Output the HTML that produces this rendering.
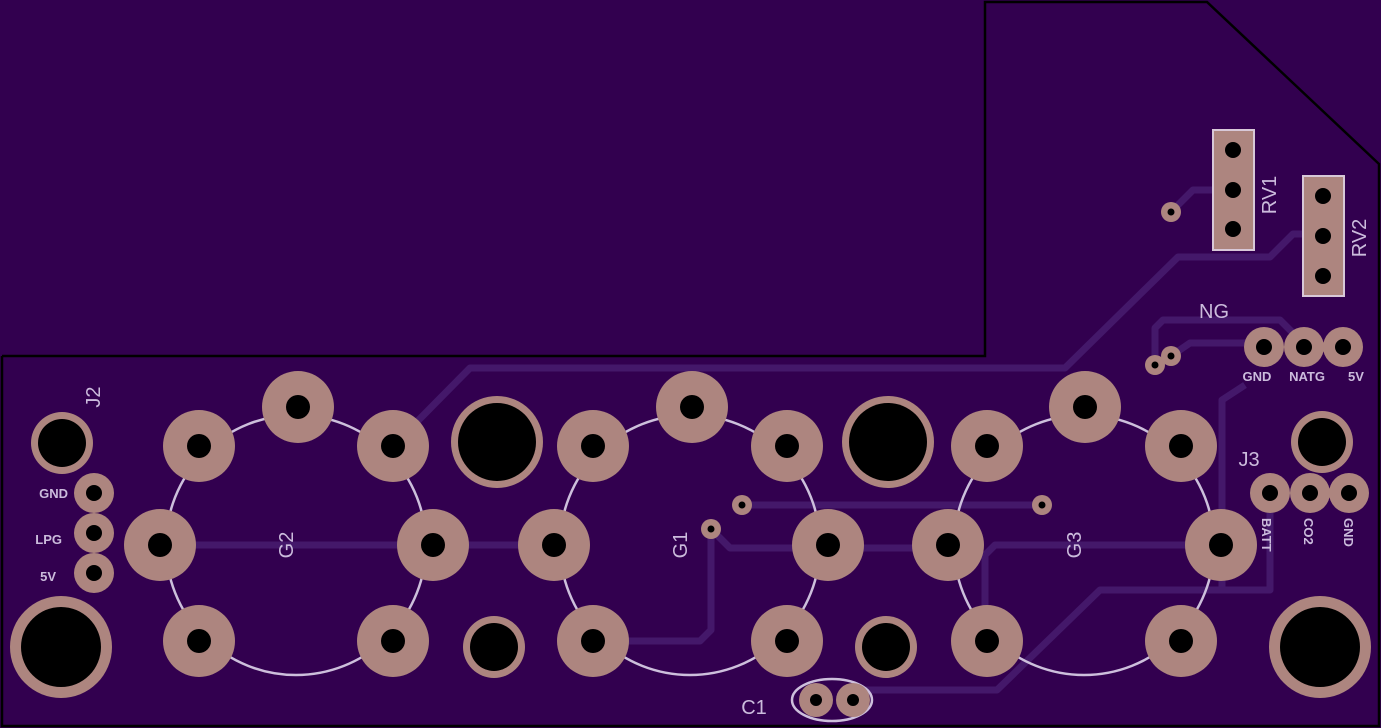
<!DOCTYPE html>
<html><head><style>
html,body{margin:0;padding:0;background:#32004f;}
svg{display:block}
text{font-family:"Liberation Sans",sans-serif;fill:#cbbbdc;}
</style></head><body>
<svg width="1381" height="728" viewBox="0 0 1381 728">
<rect width="1381" height="728" fill="#32004f"/>
<polyline points="2,356 985,356 985,2 1207,2 1379,164 1379,726 2,726 2,356" fill="none" stroke="#000" stroke-width="2.5"/>
<g fill="none" stroke="#44186a" stroke-width="7" stroke-linejoin="round">
<polyline points="393,446 470,368 1065,368 1178,257 1270,257 1293,234 1323,234"/>
<polyline points="1233,190 1193,190 1171,212"/>
<polyline points="1155,365 1155,328 1163,320 1280,320 1300,340"/>
<polyline points="1171,356 1190,343 1264,343"/>
<polyline points="1245,385 1222,400 1222,590"/>
<polyline points="1270,493 1270,590 1100,590 997,690 855,690"/>
<polyline points="160,545 554,545"/>
<polyline points="711,529 711,630 700,641 593,641"/>
<polyline points="742,505 1042,505"/>
<polyline points="711,529 730,548 948,548"/>
<polyline points="1221,545 995,545 985,555 985,641"/>
</g>
<g fill="none" stroke="#cdbfdc" stroke-width="2.5">
<circle cx="296" cy="545" r="130"/>
<circle cx="690" cy="545" r="130"/>
<circle cx="1084" cy="545" r="130"/>
<ellipse cx="832" cy="700" rx="40" ry="21"/>
</g>
<g fill="#ad857f">
<!-- G2 -->
<circle cx="298" cy="407" r="36"/><circle cx="199" cy="446" r="36"/><circle cx="393" cy="446" r="36"/><circle cx="160" cy="545" r="36"/><circle cx="433" cy="545" r="36"/><circle cx="199" cy="641" r="36"/><circle cx="393" cy="641" r="36"/>
<circle cx="692" cy="407" r="36"/><circle cx="593" cy="446" r="36"/><circle cx="787" cy="446" r="36"/><circle cx="554" cy="545" r="36"/><circle cx="828" cy="545" r="36"/><circle cx="593" cy="641" r="36"/><circle cx="787" cy="641" r="36"/>
<circle cx="1085" cy="407" r="36"/><circle cx="987" cy="446" r="36"/><circle cx="1181" cy="446" r="36"/><circle cx="948" cy="545" r="36"/><circle cx="1221" cy="545" r="36"/><circle cx="987" cy="641" r="36"/><circle cx="1181" cy="641" r="36"/>
<circle cx="497" cy="442" r="46"/><circle cx="888" cy="442" r="46"/>
<circle cx="494" cy="647" r="31"/><circle cx="886" cy="647" r="31"/>
<circle cx="62" cy="443" r="31"/><circle cx="1322" cy="442" r="31"/>
<circle cx="61" cy="647" r="51"/><circle cx="1320" cy="647" r="51"/>
<circle cx="94" cy="493" r="20"/><circle cx="94" cy="533" r="20"/><circle cx="94" cy="573" r="20"/>
<circle cx="1270" cy="493" r="20"/><circle cx="1310" cy="493" r="20"/><circle cx="1349" cy="493" r="20"/>
<circle cx="1264" cy="347" r="20"/><circle cx="1304" cy="347" r="20"/><circle cx="1343" cy="347" r="20"/>
<circle cx="1171" cy="212" r="10"/><circle cx="1155" cy="365" r="10"/><circle cx="1171" cy="356" r="10"/>
<circle cx="742" cy="505" r="10"/><circle cx="711" cy="529" r="10"/><circle cx="1042" cy="505" r="10"/>
<circle cx="816" cy="700" r="17"/><circle cx="853" cy="700" r="17"/>
</g>
<rect x="1213" y="130" width="41" height="120" fill="#ad857f" stroke="#d8c8d8" stroke-width="2"/>
<rect x="1303" y="176" width="41" height="120" fill="#ad857f" stroke="#d8c8d8" stroke-width="2"/>
<g fill="#000">
<circle cx="298" cy="407" r="12"/><circle cx="199" cy="446" r="12"/><circle cx="393" cy="446" r="12"/><circle cx="160" cy="545" r="12"/><circle cx="433" cy="545" r="12"/><circle cx="199" cy="641" r="12"/><circle cx="393" cy="641" r="12"/>
<circle cx="692" cy="407" r="12"/><circle cx="593" cy="446" r="12"/><circle cx="787" cy="446" r="12"/><circle cx="554" cy="545" r="12"/><circle cx="828" cy="545" r="12"/><circle cx="593" cy="641" r="12"/><circle cx="787" cy="641" r="12"/>
<circle cx="1085" cy="407" r="12"/><circle cx="987" cy="446" r="12"/><circle cx="1181" cy="446" r="12"/><circle cx="948" cy="545" r="12"/><circle cx="1221" cy="545" r="12"/><circle cx="987" cy="641" r="12"/><circle cx="1181" cy="641" r="12"/>
<circle cx="497" cy="442" r="39"/><circle cx="888" cy="442" r="39"/>
<circle cx="494" cy="647" r="24"/><circle cx="886" cy="647" r="24"/>
<circle cx="62" cy="443" r="24"/><circle cx="1322" cy="442" r="24"/>
<circle cx="61" cy="647" r="40"/><circle cx="1320" cy="647" r="40"/>
<circle cx="94" cy="493" r="8"/><circle cx="94" cy="533" r="8"/><circle cx="94" cy="573" r="8"/>
<circle cx="1270" cy="493" r="8"/><circle cx="1310" cy="493" r="8"/><circle cx="1349" cy="493" r="8"/>
<circle cx="1264" cy="347" r="8"/><circle cx="1304" cy="347" r="8"/><circle cx="1343" cy="347" r="8"/>
<circle cx="1171" cy="212" r="3.5"/><circle cx="1155" cy="365" r="3.5"/><circle cx="1171" cy="356" r="3.5"/>
<circle cx="742" cy="505" r="3.5"/><circle cx="711" cy="529" r="3.5"/><circle cx="1042" cy="505" r="3.5"/>
<circle cx="816" cy="700" r="6"/><circle cx="853" cy="700" r="6"/>
<circle cx="1233" cy="150" r="8"/><circle cx="1233" cy="190" r="8"/><circle cx="1233" cy="229" r="8"/>
<circle cx="1323" cy="196" r="8"/><circle cx="1323" cy="236" r="8"/><circle cx="1323" cy="276" r="8"/>
</g>
<g font-size="20">
<text transform="translate(293,545) rotate(-90)" text-anchor="middle">G2</text>
<text transform="translate(687,545) rotate(-90)" text-anchor="middle">G1</text>
<text transform="translate(1081,545) rotate(-90)" text-anchor="middle">G3</text>
<text transform="translate(100,397) rotate(-90)" text-anchor="middle">J2</text>
<text transform="translate(1276,195) rotate(-90)" text-anchor="middle">RV1</text>
<text transform="translate(1366,238) rotate(-90)" text-anchor="middle">RV2</text>
<text x="1214" y="318" text-anchor="middle">NG</text>
<text x="1249" y="466" text-anchor="middle">J3</text>
<text x="754" y="714" text-anchor="middle">C1</text>
</g>
<g font-size="13" font-weight="bold">
<text x="68" y="498" text-anchor="end">GND</text>
<text x="62" y="544" text-anchor="end">LPG</text>
<text x="56" y="581" text-anchor="end">5V</text>
<text x="1257" y="381" text-anchor="middle">GND</text>
<text x="1307" y="381" text-anchor="middle">NATG</text>
<text x="1356" y="381" text-anchor="middle">5V</text>
<text transform="translate(1262,518) rotate(90)">BATT</text>
<text transform="translate(1304,518) rotate(90)">CO2</text>
<text transform="translate(1344,518) rotate(90)">GND</text>
</g>
</svg>
</body></html>
